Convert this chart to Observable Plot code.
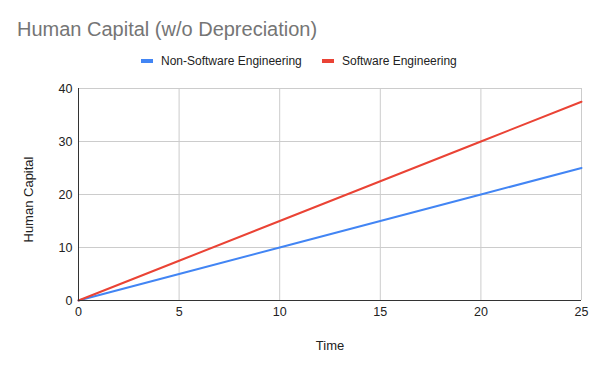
<!DOCTYPE html>
<html>
<head>
<meta charset="utf-8">
<script src="https://cdn.jsdelivr.net/npm/d3@7"></script>
<script src="https://cdn.jsdelivr.net/npm/@observablehq/plot@0.6"></script>
<style>
  body { margin: 0; background: #fff; font-family: Arial, "Liberation Sans", sans-serif; }
  #wrap { width: 600px; height: 371px; position: relative; overflow: hidden; }
  #title { position: absolute; left: 17px; top: 18px; font-size: 20px; color: #757575; white-space: nowrap; }
  #legend { position: absolute; left: 0; top: 54px; width: 600px; height: 16px; font-size: 12px; color: #222; }
  .item { position: absolute; top: 0; white-space: nowrap; display: flex; align-items: center; }
  .sw { display: inline-block; width: 12px; height: 4px; margin-right: 8px; }
  #chart { position: absolute; left: 0; top: 72px; }
</style>
</head>
<body>
<div id="wrap">
  <div id="title">Human Capital (w/o Depreciation)</div>
  <div id="legend"></div>
  <div id="chart"></div>
</div>
<script>
const title = "Human Capital (w/o Depreciation)";
const seriesNames = ["Non-Software Engineering", "Software Engineering"];
const seriesColors = ["#4285F4", "#EA4335"];
const time = [0, 5, 10, 15, 20, 25];
const nonSoftware = [0, 5, 10, 15, 20, 25];
const software = [0, 7.5, 15, 22.5, 30, 37.5];
const xTicks = [0, 5, 10, 15, 20, 25];
const yTicks = [0, 10, 20, 30, 40];
const xLabel = "Time";
const yLabel = "Human Capital";

const data = [];
time.forEach((t, i) => {
  data.push({time: t, value: nonSoftware[i], series: seriesNames[0]});
  data.push({time: t, value: software[i], series: seriesNames[1]});
});

// legend
const legend = document.getElementById("legend");
const legendX = [141, 322];
seriesNames.forEach((name, i) => {
  const it = document.createElement("div");
  it.className = "item";
  it.style.left = legendX[i] + "px";
  it.innerHTML = `<span class="sw" style="background:${seriesColors[i]}"></span><span>${name}</span>`;
  legend.appendChild(it);
});

const chart = Plot.plot({
  width: 600,
  height: 299,
  marginTop: 16,
  marginBottom: 71,
  marginLeft: 78,
  marginRight: 19,
  style: { fontFamily: "Arial, 'Liberation Sans', sans-serif", fontSize: "12px", color: "#222", background: "#fff" },
  x: { domain: [0, 25], ticks: xTicks, label: null },
  y: { domain: [0, 40], ticks: yTicks, label: null },
  color: { domain: seriesNames, range: seriesColors },
  marks: [
    Plot.gridX(xTicks, { stroke: "#cccccc", strokeOpacity: 1 }),
    Plot.gridY(yTicks, { stroke: "#cccccc", strokeOpacity: 1 }),
    Plot.axisX(xTicks, { tickSize: 0, tickPadding: 7, fontSize: 12.5, fill: "#222", label: null }),
    Plot.axisY(yTicks, { tickSize: 0, tickPadding: 6, fontSize: 12.5, fill: "#222", label: null }),
    Plot.line(data, { x: "time", y: "value", z: "series", stroke: "series", strokeWidth: 2 }),
    Plot.ruleY([0], { stroke: "#333" }),
    Plot.ruleX([0], { stroke: "#333" }),
    Plot.text([xLabel], { frameAnchor: "bottom", dy: 49, text: d => d, fontSize: 13, fill: "#222" }),
    Plot.text([yLabel], { frameAnchor: "left", textAnchor: "middle", dx: -50, dy: 5, rotate: -90, text: d => d, fontSize: 13, fill: "#222" })
  ]
});
document.getElementById("chart").appendChild(chart);
</script>
</body>
</html>
